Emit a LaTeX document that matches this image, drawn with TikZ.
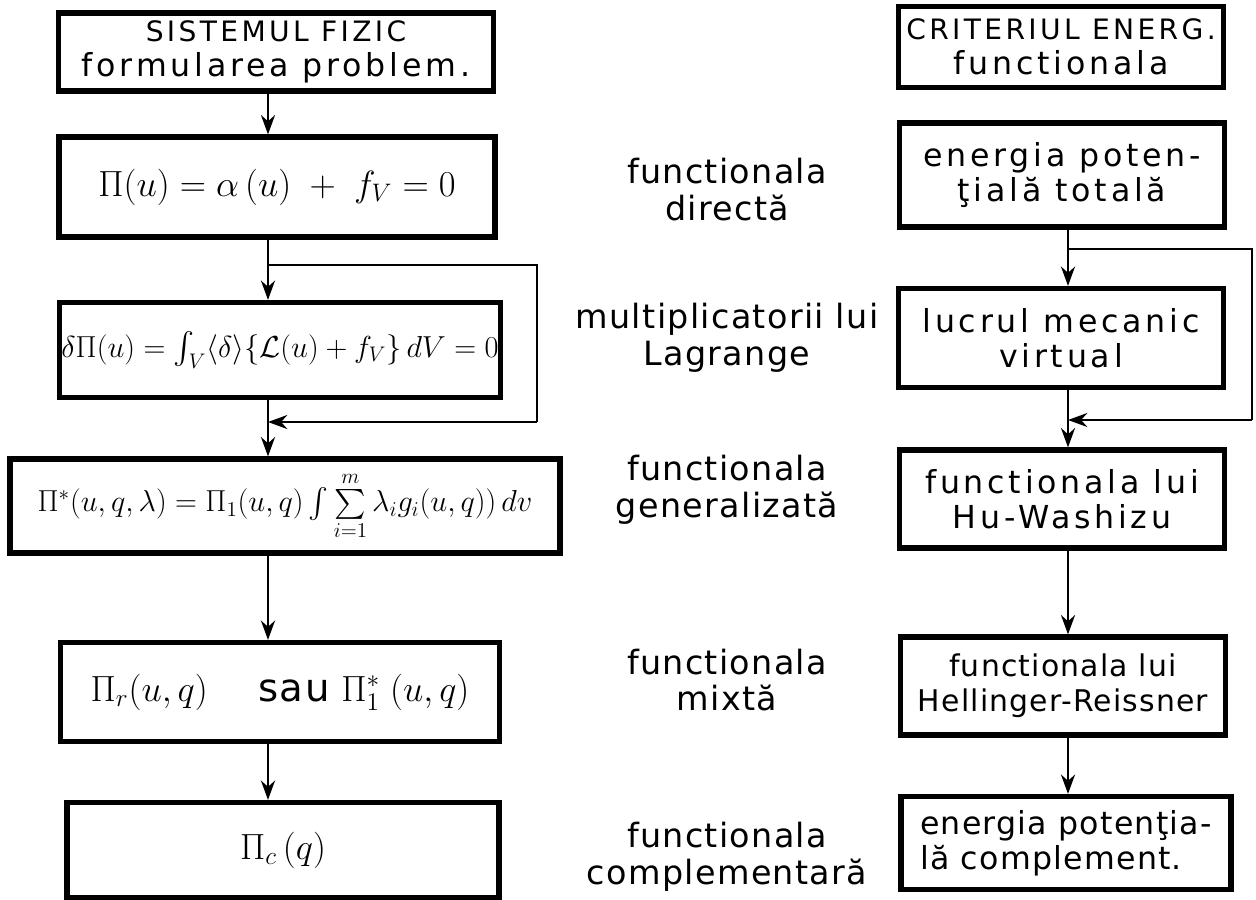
\documentclass[tikz,border=0pt]{standalone}
\usepackage{amsmath}
\usepackage{amssymb}
\usepackage{fontspec}
\newfontfamily\handfont[LetterSpace=4]{DejaVu Sans}
\newfontfamily\handwide[LetterSpace=12]{DejaVu Sans}
\usetikzlibrary{arrows.meta,calc}

\begin{document}
\begin{tikzpicture}[
    x=0.02cm, y=-0.02cm,
    stage/.style={draw, line width=3pt, align=center, inner sep=1pt, font=\handwide\fontsize{18}{20}\selectfont},
    note/.style={align=center, font=\handfont\fontsize{19}{21}\selectfont},
    flow/.style={-{Stealth[length=11pt,width=8pt]}, line width=1.3pt},
    bypass/.style={line width=1pt},
]
\useasboundingbox (0,0) rectangle (1256,899);

% Left column: from the physical system to the functionals
\node[stage, minimum width=8.7cm, minimum height=1.56cm] (sys) at (276,52)
  {{\fontsize{16}{20}\selectfont SISTEMUL FIZIC} \\ formularea problem.};
\node[stage, minimum width=8.72cm, minimum height=2cm, font=\fontsize{22}{24}\selectfont] (dir) at (277,187)
  {$\Pi(u) = \alpha\,(u) \;+\; f_V = 0$};
\node[stage, minimum width=8.74cm, minimum height=1.9cm, font=\fontsize{18}{22}\selectfont] (lag) at (280,350)
  {$\delta\Pi(u) = \int_V \langle\delta\rangle \{\mathcal{L}(u) + f_V\}\, dV = 0$};
\node[stage, minimum width=11cm, minimum height=1.88cm, font=\fontsize{17}{22}\selectfont] (gen) at (285,506)
  {$\Pi^*(u,q,\lambda) = \Pi_1(u,q) \int \sum\limits_{i=1}^{m} \lambda_i g_i(u,q))\, dv$};
\node[stage, minimum width=8.78cm, minimum height=1.98cm, font=\fontsize{22}{24}\selectfont] (mix) at (280,692)
  {$\Pi_r(u,q)$ \quad {\handfont sau} $\Pi_1^*\;(u,q)$};
\node[stage, minimum width=8.64cm, minimum height=1.9cm, font=\fontsize{22}{24}\selectfont] (comp) at (283,850)
  {$\Pi_c\,(q)$};

\coordinate (stemL) at (268,0);
\draw[flow] (sys.south -| stemL) -- (dir.north -| stemL);
\draw[flow] (dir.south -| stemL) -- (lag.north -| stemL);
\coordinate (loopLa) at (537,265);
\coordinate (loopLb) at (537,422);
\draw[bypass] (stemL |- loopLa) -- (loopLa) -- (loopLb);
\draw[flow] (loopLb) -- (stemL |- loopLb);
\draw[flow] (lag.south -| stemL) -- (gen.north -| stemL);
\draw[flow] (gen.south -| stemL) -- (mix.north -| stemL);
\draw[flow] (mix.south -| stemL) -- (comp.north -| stemL);

% Middle column: names of the functionals
\node[note] (ndir) at (727,190) {functionala \\ directă};
\node[note] (nlag) at (727,338) {multiplicatorii lui \\ Lagrange};
\node[note] (ngen) at (727,490) {functionala \\ generalizată};
\node[note] (nmix) at (727,680) {functionala \\ mixtă};
\node[note] (ncomp) at (727,857) {functionala \\ complementară};

% Right column: energy criterion
\node[stage, minimum width=6.5cm, minimum height=1.62cm] (crit) at (1061,47)
  {{\fontsize{16}{20}\selectfont CRITERIUL ENERG.} \\ functionala};
\node[stage, minimum width=6.5cm, minimum height=2.08cm] (pot) at (1062,175)
  {energia poten- \\ ţială totală};
\node[stage, minimum width=6.5cm, minimum height=1.98cm] (virt) at (1061,338)
  {lucrul mecanic \\ virtual};
\node[stage, minimum width=6.5cm, minimum height=1.96cm] (hu) at (1062,499)
  {functionala lui \\ Hu-Washizu};
\node[stage, minimum width=6.5cm, minimum height=1.96cm, font=\handfont\fontsize{17}{20}\selectfont] (hr) at (1063,686)
  {functionala lui \\ Hellinger-Reissner};
\node[stage, minimum width=6.6cm, minimum height=1.86cm, font=\handfont\fontsize{18}{20}\selectfont, align=left] (cpot) at (1066,843)
  {energia potenţia- \\ lă complement.};

\coordinate (stemR) at (1068,0);
\draw[flow] (pot.south -| stemR) -- (virt.north -| stemR);
\coordinate (loopRa) at (1252,249);
\coordinate (loopRb) at (1252,420);
\draw[bypass] (stemR |- loopRa) -- (loopRa) -- (loopRb);
\draw[flow] (loopRb) -- (stemR |- loopRb);
\draw[flow] (virt.south -| stemR) -- (hu.north -| stemR);
\draw[flow] (hu.south -| stemR) -- (hr.north -| stemR);
\draw[flow] (hr.south -| stemR) -- (cpot.north -| stemR);

\end{tikzpicture}
\end{document}
